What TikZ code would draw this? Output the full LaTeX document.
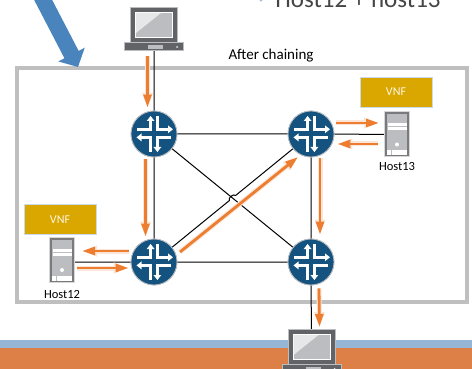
\documentclass[tikz,border=0pt]{standalone}
\usepackage{fontspec}
\setmainfont{Carlito}
\usetikzlibrary{positioning, arrows.meta, calc}
\definecolor{frameGray}{HTML}{BFBFBF}
\definecolor{routerBlue}{HTML}{14537F}
\definecolor{flowOrange}{HTML}{ED7D31}
\definecolor{vnfGold}{HTML}{DAA600}
\definecolor{bandBlue}{HTML}{95B6D4}
\definecolor{bandOrange}{HTML}{DD8047}
\definecolor{arrowBlue}{HTML}{4A84BC}
\definecolor{iconDark}{HTML}{626366}
\definecolor{iconMid}{HTML}{BCBDC0}
\definecolor{iconLight}{HTML}{E6E7E8}
\tikzset{
  router/.style={circle, draw=iconMid, line width=.8pt, fill=routerBlue, minimum size=46pt, inner sep=0pt},
  iconbox/.style={inner sep=0pt, outer sep=0pt},
  vnfbox/.style={rectangle, draw=bandBlue!50, line width=.6pt, fill=vnfGold, text=white!90!vnfGold, minimum width=72pt, minimum height=30pt, font=\fontsize{12}{13}\selectfont},
  hostlabel/.style={inner sep=0pt, font=\fontsize{12.5}{13}\selectfont},
  link/.style={draw=black, line width=1pt},
  flow/.style={draw=flowOrange, line width=2.8pt, -{Triangle[width=8pt,length=13pt]},
    preaction={draw=flowOrange!20, line width=5pt, -{Triangle[width=10pt,length=15pt]}}},
  routericon/.pic={
    \draw[white, line width=2.8pt, -{Triangle[width=7.5pt,length=5pt]}] (-17,4.7) -- (-3.4,4.7) -- (-3.4,18);
    \draw[white, line width=2.8pt, -{Triangle[width=7.5pt,length=5pt]}] (3.4,18) -- (3.4,4.7) -- (19,4.7);
    \draw[white, line width=2.8pt, -{Triangle[width=7.5pt,length=5pt]}] (-3.4,-18) -- (-3.4,-3.4) -- (-17.5,-3.4);
    \draw[white, line width=2.8pt, -{Triangle[width=7.5pt,length=5pt]}] (17,-3.4) -- (3.4,-3.4) -- (3.4,-18);
  },
  laptopicon/.pic={
    \fill[iconMid] (-24,-13.5) rectangle (24,22);
    \fill[iconDark] (-23,-13) rectangle (23,21);
    \fill[white] (-19,-9) rectangle (19,17);
    \fill[iconMid] (-18,-8) rectangle (18,16);
    \fill[iconLight] (-18,-4) -- (-18,16) -- (7,16) -- cycle;
    \fill[iconMid] (-30,-22) rectangle (30,-13);
    \fill[iconDark] (-29,-21) rectangle (29,-14);
    \fill[iconMid] (-6,-20) rectangle (9,-16);
    \fill[iconLight] (23,-18) circle (1);
  },
  servericon/.pic={
    \fill[iconMid!60] (-13,-23) rectangle (13,23);
    \fill[iconDark!85] (-12,-22) rectangle (12,22);
    \fill[iconMid] (-10,-20) rectangle (10,20);
    \fill[white] (-9,8.5) rectangle (9.5,11.5);
    \fill[white] (-9,4.5) rectangle (9.5,7.5);
    \fill[white] (0,-10) circle (2);
    \fill[white] (-10,-20.5) rectangle (10,-15.5);
    \fill[iconMid] (-6.5,-20.5) rectangle (-5.5,-15.5);
  },
}
\begin{document}
\begin{tikzpicture}[x=1pt,y=-1pt,every pic/.style={y=1pt}]
  \useasboundingbox (0,0) rectangle (472,369);
  % background bands
  \fill[bandBlue] (0,340) rectangle (472,348);
  \fill[bandOrange] (0,348) rectangle (472,369);
  % title and frame
  \node[anchor=base, text=iconDark!70!black, inner sep=0pt, font=\fontsize{25}{26}\selectfont] (title) at (358,8) {Host12 + host13};
  \draw[bandBlue, line width=.6pt] (261,-.5) circle (1.6);
  \draw[frameGray, line width=3.5pt] (17,68) rectangle (467,302);
  \node[inner sep=0pt, font=\fontsize{15}{16}\selectfont] (chainlabel) at (271,56) {After chaining};
  % big arrow
  \coordinate (bigtail) at (38,-10);
  \coordinate (bigtip) at (78,67);
  \draw[arrowBlue, line width=16pt, -{Triangle[width=29pt,length=14pt]}] (bigtail) -- (bigtip);
  % routers
  \foreach \name/\px/\py in {rtrA/154/134, rtrB/311/134, rtrC/154/262, rtrD/311/262}{
    \node[router] (\name) at (\px,\py) {};
  }
  \node[iconbox, minimum width=60pt, minimum height=44pt] (laptopA) at (154,29) {};
  \node[iconbox, minimum width=60pt, minimum height=44pt] (laptopB) at (311.5,351) {};
  \node[iconbox, minimum width=26pt, minimum height=46pt] (hostA) at (62,260) {};
  \node[iconbox, minimum width=26pt, minimum height=46pt] (hostB) at (397,134.5) {};
  % links
  \path[link]
    (laptopA.south) -- (rtrA.north)
    (rtrA.east) -- (rtrB.west)
    (rtrA.south) -- (rtrC.north)
    (rtrB.south) -- (rtrD.north)
    (rtrC.east) -- (rtrD.west)
    (rtrA) -- (rtrD)
    (rtrC) -- ($(rtrC)!.48!(rtrB)$) to[bend left=80] ($(rtrC)!.52!(rtrB)$) -- (rtrB)
    (hostA.east |- rtrC) -- (rtrC.west)
    (rtrB.east) -- (hostB.west)
    (rtrD.south) -- (laptopB.north);
  % icons
  \foreach \name in {rtrA, rtrB, rtrC, rtrD}{
    \node[router] at (\name) {};
    \pic at (\name) {routericon};
  }
  \pic at (laptopA) {laptopicon};
  \pic at (laptopB) {laptopicon};
  \pic at (hostA) {servericon};
  \pic at (hostB) {servericon};
  % vnf boxes and labels
  \node[vnfbox] (vnfA) at (60,219.5) {VNF};
  \node[vnfbox] (vnfB) at (396,92) {VNF};
  \node[hostlabel, below=7pt of hostA] (labelA) {Host12};
  \node[hostlabel, below=5pt of hostB] (labelB) {Host13};
  % service chain
  \draw[flow] ([xshift=-6.5pt,yshift=-5pt]laptopA.south) -- ([xshift=-6.5pt,yshift=3pt]rtrA.north);
  \draw[flow] ([xshift=-8.5pt,yshift=-2pt]rtrA.south) -- ([xshift=-8.5pt,yshift=2pt]rtrC.north);
  \draw[flow] ([xshift=-2pt,yshift=11pt]rtrC.west) -- ([xshift=7pt,yshift=9pt]hostA.east);
  \draw[flow] ([xshift=2pt,yshift=-8pt]hostA.east) -- ([xshift=-2pt,yshift=-6pt]rtrC.west);
  \draw[flow] ($(rtrC)+(26,-10)$) -- ($(rtrB)+(-13,23)$);
  \draw[flow] ([xshift=2pt,yshift=11pt]rtrB.east) -- ([xshift=-5pt,yshift=11.5pt]hostB.west);
  \draw[flow] ([xshift=-6pt,yshift=-9.5pt]hostB.west) -- ([xshift=3pt,yshift=-10pt]rtrB.east);
  \draw[flow] ([xshift=9pt,yshift=-1pt]rtrB.south) -- ([xshift=9pt,yshift=4pt]rtrD.north);
  \draw[flow] ([xshift=8pt,yshift=-3pt]rtrD.south) -- ([xshift=8pt,yshift=2pt]laptopB.north);
\end{tikzpicture}
\end{document}
